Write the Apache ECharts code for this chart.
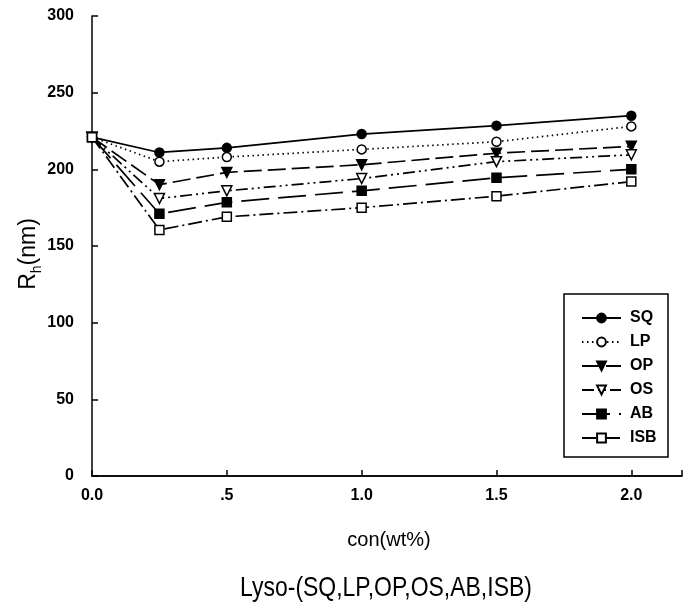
<!DOCTYPE html>
<html>
<head>
<meta charset="utf-8">
<script src="https://cdn.jsdelivr.net/npm/echarts@6/dist/echarts.min.js"></script>
<style>
html,body{margin:0;padding:0;background:#fff;}
#chart{width:685px;height:612px;}
</style>
</head>
<body>
<div id="chart"></div>
<script>
var conc = [0, 0.25, 0.5, 1.0, 1.5, 2.0];
var SQ  = [221, 211, 214, 223, 228.5, 235];
var LP  = [221, 205, 208, 213, 218, 228];
var OP  = [221, 190, 198, 203, 210.5, 215];
var OS  = [221, 181, 186, 194, 205, 209.5];
var AB  = [221, 171, 178.5, 186, 194.5, 200];
var ISB = [221, 160.5, 169, 175, 182.5, 192];
var seriesNames = ['SQ', 'LP', 'OP', 'OS', 'AB', 'ISB'];
var xTickLabels = {'0': '0.0', '0.5': '.5', '1': '1.0', '1.5': '1.5', '2': '2.0'};
var xTitle = 'con(wt%)';
var chartTitle = 'Lyso-(SQ,LP,OP,OS,AB,ISB)';

var FONT = '"Liberation Sans", Arial, Helvetica, sans-serif';
function pairs(arr) { return conc.map(function (x, i) { return [x, arr[i]]; }); }

var styles = [
  {symbol: 'circle', rot: 0, fill: '#000', dash: 'solid'},
  {symbol: 'circle', rot: 0, fill: '#fff', dash: [1.5, 3.5]},
  {symbol: 'triangle', rot: 180, fill: '#000', dash: [18, 6]},
  {symbol: 'triangle', rot: 180, fill: '#fff', dash: [12, 4, 2, 4, 2, 4]},
  {symbol: 'rect', rot: 0, fill: '#000', dash: [28, 9]},
  {symbol: 'rect', rot: 0, fill: '#fff', dash: [14, 4, 2, 4]}
];
var dataArr = [SQ, LP, OP, OS, AB, ISB];

var series = seriesNames.map(function (n, i) {
  var s = styles[i];
  return {
    name: n,
    type: 'line',
    data: pairs(dataArr[i]),
    symbol: s.symbol,
    symbolRotate: s.rot,
    symbolSize: s.symbol === 'triangle' ? 10 : 9,
    showAllSymbol: true,
    lineStyle: {color: '#000', width: 1.7, type: s.dash},
    itemStyle: {color: s.fill, borderColor: '#000', borderWidth: 1.5},
    emphasis: {disabled: true},
    animation: false,
    z: 2 + i
  };
});

var XMAX = 2.188;
var chart = echarts.init(document.getElementById('chart'), null, {renderer: 'canvas'});
chart.setOption({
  backgroundColor: '#fff',
  animation: false,
  grid: {left: 92, top: 16, bottom: 136, right: 0, containLabel: false},
  xAxis: [{
    type: 'value', min: 0, max: XMAX, interval: 0.5,
    axisLine: {show: true, onZero: false, lineStyle: {color: '#000', width: 1.5}},
    axisTick: {show: true, inside: true, length: 6, lineStyle: {color: '#000', width: 1.5}},
    axisLabel: {
      margin: 12, color: '#000', fontFamily: FONT, fontSize: 16, fontWeight: 'bold', showMaxLabel: true,
      formatter: function (v) { var k = String(+v.toFixed(2)); return xTickLabels[k] !== undefined ? xTickLabels[k] : ''; }
    },
    splitLine: {show: false}
  }, {
    type: 'value', position: 'top', min: 0, max: XMAX,
    axisLine: {show: true, lineStyle: {color: '#000', width: 1.5}},
    axisTick: {show: false}, axisLabel: {show: false}, splitLine: {show: false}
  }],
  yAxis: {
    type: 'value', min: 0, max: 300, interval: 50,
    axisLine: {show: true, lineStyle: {color: '#000', width: 1.5}},
    axisTick: {show: true, inside: true, length: 6, lineStyle: {color: '#000', width: 1.5}},
    axisLabel: {margin: 18, color: '#000', fontFamily: FONT, fontSize: 16, fontWeight: 'bold'},
    splitLine: {show: false}
  },
  legend: {
    orient: 'vertical', left: 564, top: 294,
    padding: [16, 0, 0, 17],
    itemWidth: 39, itemHeight: 11, itemGap: 8,
    textStyle: {color: '#000', fontFamily: FONT, fontSize: 16, fontWeight: 'bold', padding: [0, 0, 0, 4]},
    data: seriesNames,
    selectedMode: false
  },
  graphic: [
    {type: 'rect', shape: {x: 564, y: 294, width: 104, height: 163},
     style: {fill: 'none', stroke: '#000', lineWidth: 1.5}, z: 100},
    {type: 'text', x: 389, y: 540,
     style: {text: xTitle, fill: '#000', font: '20px ' + FONT, textAlign: 'center', textVerticalAlign: 'middle'}},
    {type: 'text', x: 386, y: 588, scaleX: 0.82,
     style: {text: chartTitle, fill: '#000', font: '28px ' + FONT, textAlign: 'center', textVerticalAlign: 'middle'}},
    {type: 'text', x: 29, y: 254, rotation: Math.PI / 2,
     style: {
       text: '{a|R}{b|h}{a|(nm)}', textAlign: 'center', textVerticalAlign: 'middle',
       rich: {
         a: {fontSize: 23, fontFamily: FONT, fill: '#000', color: '#000', lineHeight: 30, verticalAlign: 'middle'},
         b: {fontSize: 14, fontFamily: FONT, fill: '#000', color: '#000', lineHeight: 14, verticalAlign: 'bottom'}
       }
     }}
  ],
  series: series
});
</script>
</body>
</html>
